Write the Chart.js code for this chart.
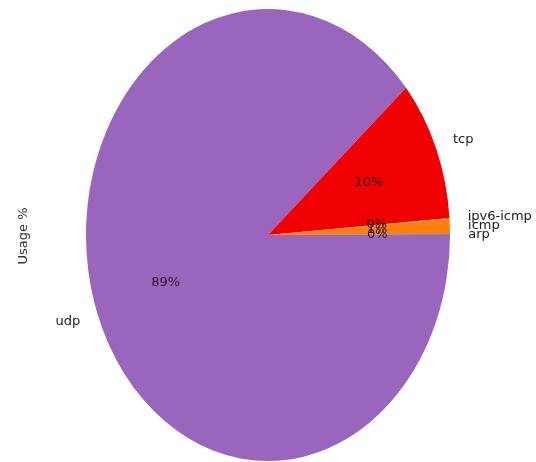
<!DOCTYPE html>
<html>
<head>
<meta charset="utf-8">
<script src="https://cdn.jsdelivr.net/npm/chart.js@4"></script>
<style>
  html, body { margin: 0; padding: 0; background: #fff; }
  #wrap { width: 536px; height: 462px; position: relative; }
</style>
</head>
<body>
<div id="wrap"><canvas id="usageChart" width="536" height="462"></canvas></div>
<script>
// Protocol usage (reading order of the picture, counterclockwise from 3 o'clock)
const protocols = ['arp', 'icmp', 'ipv6-icmp', 'tcp', 'udp'];
const usage = [0.05, 1.1, 0.05, 10.1, 88.7];
const colours = ['#1f77b4', '#ff7f0e', '#2ca02c', '#f00000', '#9a65bd'];
const axisTitle = 'Usage %';

// Chart.js goes clockwise, so feed the slices reversed and start at 3 o'clock
const order = protocols.map((_, i) => i).reverse();
const total = usage.reduce((a, b) => a + b, 0);

// vertical stretch of the pie (the picture is an ellipse)
const stretch = 226 / 182;

const ellipsePlugin = {
    id: 'ellipse',
    beforeDatasetsDraw(chart) {
        const arc = chart.getDatasetMeta(0).data[0];
        const ctx = chart.ctx;
        ctx.save();
        ctx.translate(arc.x, arc.y);
        ctx.scale(1, stretch);
        ctx.translate(-arc.x, -arc.y);
    },
    afterDatasetsDraw(chart) {
        chart.ctx.restore();
    }
};

// labels outside and percentages inside, like matplotlib
const labelPlugin = {
    id: 'pieLabels',
    afterDraw(chart) {
        const ctx = chart.ctx;
        const meta = chart.getDatasetMeta(0);
        ctx.save();
        ctx.font = '13px "DejaVu Sans"';
        ctx.textBaseline = 'middle';
        meta.data.forEach((arc, i) => {
            const idx = order[i];
            const mid = (arc.startAngle + arc.endAngle) / 2;
            const r = arc.outerRadius;
            const cos = Math.cos(mid), sin = Math.sin(mid);

            // name
            ctx.fillStyle = '#1a1a1a';
            ctx.textAlign = cos > 0 ? 'left' : 'right';
            ctx.fillText(protocols[idx], arc.x + 1.1 * r * cos, arc.y + 1.1 * r * sin * stretch);

            // percent
            ctx.fillStyle = '#2a1420';
            ctx.textAlign = 'center';
            const pct = Math.round(usage[idx] / total * 100) + '%';
            ctx.fillText(pct, arc.x + 0.6 * r * cos, arc.y + 0.6 * r * sin * stretch);
        });

        // y axis title
        ctx.translate(24, 236);
        ctx.rotate(-Math.PI / 2);
        ctx.textAlign = 'center';
        ctx.fillStyle = '#333';
        ctx.fillText(axisTitle, 0, 0);
        ctx.restore();
    }
};

const usageChart = new Chart(document.getElementById('usageChart').getContext('2d'), {
    type: 'pie',
    data: {
        labels: order.map(i => protocols[i]),
        datasets: [{
            data: order.map(i => usage[i]),
            backgroundColor: order.map(i => colours[i]),
            borderWidth: 0
        }]
    },
    options: {
        responsive: false,
        animation: false,
        rotation: 90,
        layout: {
            padding: { left: 86, right: 86, top: 53, bottom: 45 }
        },
        plugins: {
            legend: { display: false },
            tooltip: { enabled: false }
        }
    },
    plugins: [ellipsePlugin, labelPlugin]
});
</script>
</body>
</html>
